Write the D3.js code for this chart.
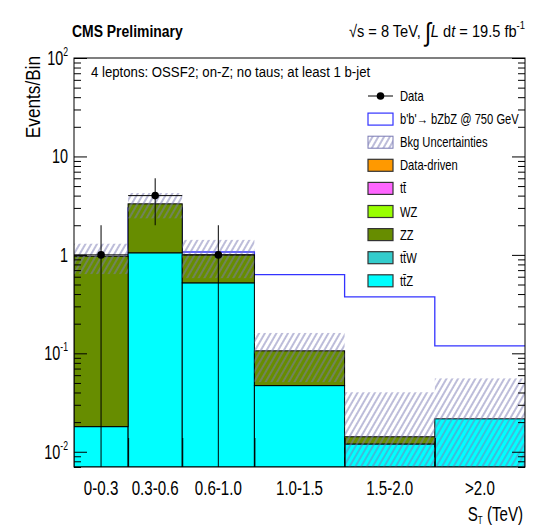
<!DOCTYPE html>
<html><head><meta charset="utf-8">
<script src="https://cdn.jsdelivr.net/npm/d3@7"></script>
<style>
body{margin:0;background:#fff;}
text{font-family:"Liberation Sans",Arial,sans-serif;fill:#000;}
</style></head>
<body>
<script>
// ---- data ----
const categories = ["0-0.3","0.3-0.6","0.6-1.0","1.0-1.5","1.5-2.0",">2.0"];
const binEdges = [0,0.3,0.6,1.0,1.5,2.0,2.5];
const tZ        = [0.018,1.05,0.52,0.047,0.012,0.0216];
const ttW       = [0,0,0,0,0,0];
const ZZ        = [0.95,2.25,0.48,0.059,0.0022,0];
const WZ        = [0,0,0,0,0,0];
const ttbar     = [0,0,0,0,0,0];
const dataDriven= [0,0,0,0,0,0];
const bkgErr    = [0.33,0.95,0.42,0.055,0.026,0.034];
const signal    = [0.9,3.0,1.07,0.63,0.375,0.119];
const dataCounts= [1,4,1,0,0,0];
const yMajorTicks = [0.01,0.1,1,10,100];
const yTickLabels = [["10","-2"],["10","-1"],["1",null],["10",null],["10","2"]];
const seriesNames = ["tZ","ttW","ZZ","WZ","ttbar","Data-driven"];
const seriesValues = [tZ,ttW,ZZ,WZ,ttbar,dataDriven];
const seriesColors = ["#00ffff","#33cccc","#678d00","#99ff00","#ff66ff","#ff9900"];

const W=535,H=525;
const svg=d3.select("body").append("svg").attr("width",W).attr("height",H);
const x=d3.scaleLinear().domain([0,2.5]).range([74,525]);
const y=d3.scaleLog().domain([0.007,100]).range([467,58]);
const [x0,x1]=x.range(), [yb,yt]=y.range();

// narrow text helper (horizontal condense)
function T(parent,px,py,size,sx,anchor,rot){
  return parent.append("text")
    .attr("transform",`translate(${px},${py})${rot?` rotate(${rot})`:""} scale(${sx},1)`)
    .attr("font-size",size).attr("text-anchor",anchor||"start");
}

const defs=svg.append("defs");
defs.append("pattern").attr("id","hatch").attr("patternUnits","userSpaceOnUse")
  .attr("width",5).attr("height",10).attr("patternTransform","rotate(30)")
  .append("line").attr("x1",1).attr("y1",0).attr("x2",1).attr("y2",10)
  .attr("stroke","#7a7ab4").attr("stroke-width",1);
defs.append("clipPath").attr("id","clip").append("rect")
  .attr("x",x0).attr("y",yt).attr("width",x1-x0).attr("height",yb-yt);

const g=svg.append("g").attr("clip-path","url(#clip)");
const clampY=v=>y(Math.max(v,y.domain()[0]));

// signal (step line) drawn under the stack
const sigPts=[];
signal.forEach((v,i)=>{sigPts.push([x(binEdges[i]),clampY(v)]);sigPts.push([x(binEdges[i+1]),clampY(v)]);});
g.append("path").attr("d",d3.line()(sigPts)).attr("fill","none").attr("stroke","#3333ff").attr("stroke-width",1.3);

// stack
const stackTop=binEdges.slice(1).map(()=>0);
seriesValues.forEach((vals,si)=>{
  vals.forEach((v,i)=>{
    if(v<=0) return;
    const lo=stackTop[i], hi=lo+v;
    stackTop[i]=hi;
    g.append("rect").attr("x",x(binEdges[i])).attr("width",x(binEdges[i+1])-x(binEdges[i]))
      .attr("y",clampY(hi)).attr("height",clampY(lo)-clampY(hi))
      .attr("fill",seriesColors[si]).attr("stroke","#000").attr("stroke-width",1);
  });
});

// uncertainty band
stackTop.forEach((t,i)=>{
  const hi=t+bkgErr[i], lo=t-bkgErr[i];
  g.append("rect").attr("x",x(binEdges[i])).attr("width",x(binEdges[i+1])-x(binEdges[i]))
    .attr("y",clampY(hi)).attr("height",clampY(lo)-clampY(hi)).attr("fill","url(#hatch)");
});

// data
dataCounts.forEach((n,i)=>{
  if(n<=0) return;
  const cx=x((binEdges[i]+binEdges[i+1])/2), e=Math.sqrt(n);
  g.append("line").attr("x1",cx).attr("x2",cx).attr("y1",clampY(n+e)).attr("y2",clampY(n-e)).attr("stroke","#000");
  g.append("line").attr("x1",x(binEdges[i])).attr("x2",x(binEdges[i+1])).attr("y1",y(n)).attr("y2",y(n)).attr("stroke","#000");
  g.append("circle").attr("cx",cx).attr("cy",y(n)).attr("r",3.8).attr("fill","#000");
});

// axes
const minor=[];
for(let d=-3;d<2;d++) for(let k=2;k<10;k++){const v=k*Math.pow(10,d); if(v>=y.domain()[0]&&v<=100) minor.push(v);}
const ax=svg.append("g");
ax.append("g").attr("transform",`translate(${x0},0)`).call(d3.axisLeft(y).tickValues(yMajorTicks).tickSize(-13).tickFormat(""));
ax.append("g").attr("transform",`translate(${x0},0)`).call(d3.axisLeft(y).tickValues(minor).tickSize(-7).tickFormat(""));
ax.append("g").attr("transform",`translate(${x1},0)`).call(d3.axisRight(y).tickValues(yMajorTicks).tickSize(-13).tickFormat(""));
ax.append("g").attr("transform",`translate(${x1},0)`).call(d3.axisRight(y).tickValues(minor).tickSize(-7).tickFormat(""));
ax.append("g").attr("transform",`translate(0,${yb})`).call(d3.axisBottom(x).tickValues(binEdges.slice(1,-1)).tickSize(-29).tickFormat(""));
ax.selectAll(".domain").remove();
ax.selectAll("line").attr("stroke","#000");
svg.append("rect").attr("x",x0).attr("y",yt).attr("width",x1-x0).attr("height",yb-yt).attr("fill","none").attr("stroke","#000").attr("stroke-width",1);

// y tick labels
yMajorTicks.forEach((v,i)=>{
  const [b,s]=yTickLabels[i];
  const t=T(svg,68,y(v)+7,20,0.72,"end");
  t.append("tspan").text(b);
  if(s) t.append("tspan").attr("font-size",12).attr("dy",-9).text(s);
});

// x labels
categories.forEach((c,i)=>{
  T(svg,x((binEdges[i]+binEdges[i+1])/2),495,21,0.72,"middle").text(c);
});
const xl=T(svg,523,521,21,0.72,"end");
xl.append("tspan").text("S");
xl.append("tspan").attr("font-size",11).attr("dy",3).text("T");
xl.append("tspan").attr("dy",-3).text(" (TeV)");

// y title
T(svg,40,56,20,0.86,"end",-90).text("Events/Bin");

// header
T(svg,72,37,17,0.82,"start").attr("font-weight","bold").text("CMS Preliminary");
const hd=T(svg,525,37,17,0.86,"end");
hd.append("tspan").text("\u221As = 8 TeV, ");
hd.append("tspan").attr("font-size",26).attr("dy",4).text("\u222B");
hd.append("tspan").attr("dy",-4).attr("font-style","italic").text("L");
hd.append("tspan").text(" d");
hd.append("tspan").attr("font-style","italic").text("t");
hd.append("tspan").text(" = 19.5 fb");
hd.append("tspan").attr("font-size",11).attr("dy",-8).text("-1");

T(svg,91,77,15,0.88,"start").text("4 leptons: OSSF2; on-Z; no taus; at least 1 b-jet");

// legend
const legend=[
  {label:"Data",type:"data"},
  {label:"b'b'\u2192 bZbZ @ 750 GeV",type:"sig"},
  {label:"Bkg Uncertainties",type:"unc"},
  {label:"Data-driven",type:"fill",color:seriesColors[5]},
  {label:"t\u0074\u0304",type:"fill",color:seriesColors[4]},
  {label:"WZ",type:"fill",color:seriesColors[3]},
  {label:"ZZ",type:"fill",color:seriesColors[2]},
  {label:"t\u0074\u0304W",type:"fill",color:seriesColors[1]},
  {label:"t\u0074\u0304Z",type:"fill",color:seriesColors[0]}
];
const lg=svg.append("g");
legend.forEach((d,i)=>{
  const cy=96+i*23.1;
  if(d.type==="data"){
    lg.append("line").attr("x1",368).attr("x2",393).attr("y1",cy).attr("y2",cy).attr("stroke","#000");
    lg.append("circle").attr("cx",380.5).attr("cy",cy).attr("r",3.8).attr("fill","#000");
  } else if(d.type==="sig"){
    lg.append("rect").attr("x",368).attr("y",cy-6).attr("width",25).attr("height",12).attr("fill","#fff").attr("stroke","#3333ff").attr("stroke-width",1.2);
  } else if(d.type==="unc"){
    lg.append("rect").attr("x",368).attr("y",cy-6).attr("width",25).attr("height",12).attr("fill","url(#hatch)").attr("stroke","#7a7ab4");
  } else {
    lg.append("rect").attr("x",368).attr("y",cy-6).attr("width",25).attr("height",12).attr("fill",d.color).attr("stroke","#333").attr("stroke-width",1.2);
  }
  T(lg,400,cy+5,14,0.8,"start").text(d.label);
});
</script>
</body></html>
